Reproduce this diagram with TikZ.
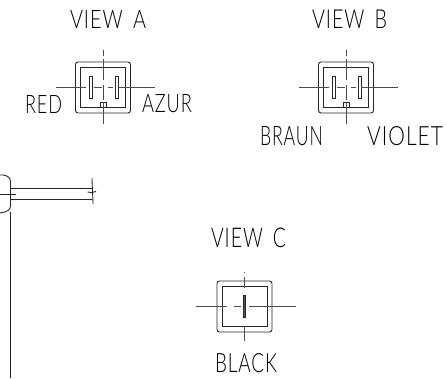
\documentclass[tikz,border=0pt]{standalone}
\usepackage{fontspec}
\newfontfamily\cadfont[LetterSpace=5,WordSpace=1.6]{Lato Light}
\usetikzlibrary{calc}
\tikzset{
  cad/.style={line width=0.9pt,draw=black!85},
  axis/.style={line width=0.8pt,draw=black!70},
  lbl/.style={inner sep=0pt,outer sep=0pt,anchor=south west,text=black},
}
% name, x0, x1, y0(top), y1(bottom), text
\newcommand{\cadlabel}[6]{%
  \pgfmathsetmacro{\lw}{#3-#2}\pgfmathsetmacro{\lh}{#5-#4}%
  \node[lbl] (#1) at (#2,#5) {\resizebox{\lw pt}{\lh pt}{\cadfont #6}};}
% connector body: prefix centre x, top of outer box y
\newcommand{\housing}[2]{%
  \draw[cad,rounded corners=2.5pt] (#1-27.5,#2) rectangle (#1+27.5,#2+51);
  \draw[cad] (#1-22.5,#2+5) rectangle (#1+22.5,#2+45.5);
}
\newcommand{\twopin}[2]{%
  \housing{#1}{#2}
  \draw[cad] (#1-14,#2+14) rectangle (#1-11,#2+36);
  \draw[cad] (#1+12,#2+14) rectangle (#1+15,#2+36);
  \draw[cad] (#1-3,#2+40) rectangle (#1+3,#2+45.5);
  \draw[axis] (#1,#2-12.5) -- (#1,#2-6);
  \draw[axis] (#1,#2-3) -- (#1,#2+18);
  \draw[axis] (#1,#2+23) -- (#1,#2+38);
  \draw[axis] (#1,#2+40) -- (#1,#2+62);
  \draw[axis] (#1-47.5,#2+25) -- (#1-17,#2+25);
  \draw[axis] (#1-9,#2+25) -- (#1-1,#2+25);
  \draw[axis] (#1+5,#2+25) -- (#1+10,#2+25);
  \draw[axis] (#1+15,#2+25) -- (#1+52,#2+25);
}
\begin{document}
\begin{tikzpicture}[x=1pt,y=-1pt]
\useasboundingbox (0,0) rectangle (447,378);
\cadlabel{va}{70}{146}{10}{28}{VIEW A}
\cadlabel{vb}{312}{387}{9.5}{28}{VIEW B}
\cadlabel{vc}{211}{286}{228.5}{248}{VIEW C}
\cadlabel{red}{25}{62}{95}{113}{RED}
\cadlabel{azur}{142}{192}{95}{113}{AZUR}
\cadlabel{braun}{260}{323}{127}{146}{BRAUN}
\cadlabel{violet}{367}{443}{127}{146}{VIOLET}
\cadlabel{black}{215}{277}{354}{373}{BLACK}
\twopin{103}{62}
\twopin{346}{62}
% view C
\housing{244.5}{281}
\draw[cad,fill=black!65] (243,295) rectangle (245.5,317);
\draw[axis] (244,271.5) -- (244,273);
\draw[axis] (244,277) -- (244,288);
\draw[axis] (244,327) -- (244,341);
\draw[axis] (196,306) -- (227,306);
\draw[axis] (234,306) -- (241,306);
\draw[axis] (249,306) -- (296,306);
% left part
\draw[cad] (0,175) -- (3,175) .. controls (8,175.5) and (10.5,178) .. (10.5,182) -- (10.5,206)
  .. controls (10.5,210) and (7,212) .. (0,213);
\draw[cad] (10.5,212) -- (10.5,378);
\draw[cad] (10.5,188.5) -- (92,188.5);
\draw[cad] (10.5,199) -- (92,199);
\draw[cad] (0,194) -- (16,194);
\draw[cad] (92,178) .. controls (92,184) and (93,198) .. (93,204);
\draw[cad] (87.5,192) .. controls (90,193) and (93,192.5) .. (96,191.5);
\end{tikzpicture}
\end{document}
